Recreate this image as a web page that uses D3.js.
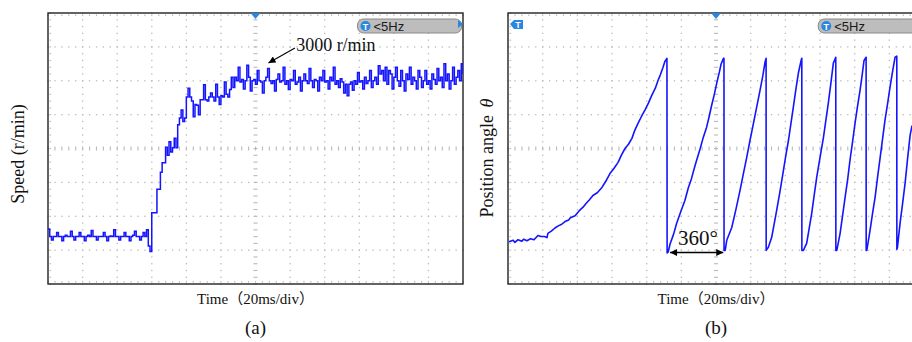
<!DOCTYPE html>
<html lang="en">
<head>
<meta charset="UTF-8">
<title>Speed and position angle</title>
<style>
  body { margin: 0; background: #fff; }
  svg { display: block; }
</style>
</head>
<body>
<div id="chart"></div>
<script src="https://cdn.jsdelivr.net/npm/d3@7/dist/d3.min.js"></script>
<script>
  // (a) speed trace, one sample per ms (r/min)
  const speedStepMs = 1;
  const speedRpm = [
    // 0..59 ms, standstill offset
    810, 700, 650, 700, 700, 760, 700, 700, 640, 700, 720, 700, 700, 780, 700, 650, 700, 700, 760, 700,
    700, 640, 700, 720, 700, 790, 700, 700, 650, 700, 700, 700, 760, 700, 640, 700, 710, 700, 800, 700,
    700, 650, 700, 700, 760, 700, 700, 640, 700, 720, 780, 700, 700, 650, 700, 760, 700, 800, 560, 480,
    // 60..107 ms, acceleration
    1050, 1050, 1050, 1400, 1400, 1650, 1790, 1790, 2020, 1900, 2100, 1950, 2010, 2150, 2010, 2350,
    2450, 2570, 2400, 2450, 2760, 2890, 2760, 2700, 2470, 2650, 2640, 2500, 2720, 2720, 2940, 2720,
    2700, 2760, 2820, 2760, 2700, 2950, 2760, 2650, 2780, 2760, 2980, 2800, 2760, 2870, 3050, 2900,
    // 108..240 ms, steady 3000 r/min
    3050, 3000, 3200, 2980, 3020, 2880, 3000, 3230, 3050, 2850,
    3000, 3020, 2950, 3150, 3000, 2980, 2820, 3000, 3050, 3180,
    3000, 2960, 3000, 2850, 3020, 3100, 2980, 3000, 3200, 2950,
    3000, 2870, 3020, 3000, 3150, 2950, 2980, 3050, 2850, 3000,
    3100, 3000, 2960, 3180, 3000, 2900, 3020, 3000, 2850, 3050,
    3000, 3150, 2980, 3000, 2880, 3050, 3000, 3200, 2950, 3000,
    2900, 3030, 2980, 2820, 2950, 2780, 2950, 2980, 2860, 3000,
    2950, 3120, 2980, 3000, 2880, 3050, 2960, 3000, 3150, 2900,
    3000, 3050, 2950, 3220, 3100, 3150, 3000, 3200, 2950, 3150,
    3100, 2880, 3050, 3200, 3000, 2920, 3150, 3000, 2850, 3100,
    3020, 3200, 2950, 3050, 3000, 2880, 3150, 3050, 2900, 3000,
    3150, 2950, 3000, 2880, 3100, 3020, 2950, 3180, 3000, 3050,
    2900, 3250, 3000, 3100, 2880, 3000, 3200, 2950, 3050, 3150,
    3000, 3250, 3100
  ];

  // (b) position angle trace: time (ms) and angle (deg)
  const angleTimeMs = [
    0.6, 3, 4, 5.8, 8, 9, 11, 13, 15, 17.3, 19, 21, 22.5, 23, 25, 27.1, 29, 31, 32.9, 35,
    36, 38.7, 41, 43.3, 45, 47, 49, 51.5, 54.2, 56.5, 58.8, 61, 63.5, 65.5, 67.5, 69.5, 71.5, 73, 75, 77,
    79, 81, 83, 85, 86.6, 88, 89.4, 90.5, 91.7,
    91.8, 92.4, 93.5, 95.5, 97.3, 99.6, 102.1, 104, 105.8, 108, 110.8, 112.5, 114.6, 116, 117.5, 119, 120.4, 122, 122.9, 124.3, 124.6,
    124.65, 125.3, 126.2, 129.1, 131.5, 133.9, 135.8, 137.7, 139.6, 141.6, 143.5, 145.4, 147, 148.3, 148.9,
    148.95, 150.2, 152.1, 155, 157, 158.9, 160.3, 161.8, 163.2, 164.6, 166, 167.5, 169.1, 169.5,
    169.55, 170.4, 172.3, 175.2, 176.6, 178.1, 180, 182, 183.4, 184.8, 186.3, 187.7, 189.1,
    189.15, 189.7, 191.6, 194.5, 196, 197.3, 198.8, 200.2, 201.6, 203.1, 204.3, 205.4, 206.6,
    206.65, 207, 208.9, 210.3, 211.8, 213.2, 214.7, 216.1, 217.5, 219, 220.4, 222, 223.3, 224.3,
    224.35, 224.7, 226.2, 227.7, 229.1, 230.5, 232, 233.1
  ];
  const angleDeg = [
    14, 17, 13, 18, 15, 19, 16, 20, 18, 26, 24, 24, 22, 30, 34, 40, 44, 47, 52, 55,
    59, 63, 72, 79, 86, 93, 101, 106, 116, 128, 142, 151, 163, 177, 189, 197, 208, 222, 236, 249,
    261, 274, 289, 302, 317, 328, 341, 352, 358,
    -7, -5, 10, 28, 49, 70, 92, 115, 132, 158, 188, 208, 229, 248, 270, 290, 311, 333, 347, 358, 358,
    -2, -2, 17, 41, 75, 111, 142, 172, 204, 236, 267, 298, 325, 351, 358,
    -2, 4, 22, 73, 110, 148, 176, 204, 235, 266, 298, 330, 354, 358,
    -2, -2, 11, 67, 100, 135, 172, 210, 242, 274, 312, 349, 360,
    -2, -2, 30, 98, 132, 167, 202, 236, 267, 298, 326, 354, 360,
    -2, -2, 36, 67, 98, 135, 172, 207, 242, 273, 304, 336, 360, 362,
    0, 4, 49, 87, 124, 169, 214, 232
  ];

  const timeSpanMs = 240;     // 12 div x 20 ms
  const speedMax = 4000;      // 8 div x 500 r/min
  const angleRange = [-65, 443];

  const W = 912, H = 342;
  const blue = "#1414ff", uiBlue = "#2b86e0";
  const serif = "'Liberation Serif', 'Times New Roman', serif";
  const cjkSerif = "'Liberation Serif', 'Noto Sans CJK SC', serif";

  const svg = d3.select("#chart").append("svg")
    .attr("width", W).attr("height", H);

  function scopePanel(id, box, labelId) {
    const g = svg.append("g");
    const divX = d3.scaleLinear().domain([0, 12]).range([box.x, box.x + box.w]);
    const divY = d3.scaleLinear().domain([0, 8]).range([box.y + box.h, box.y]);

    g.append("clipPath").attr("id", id)
      .append("rect").attr("x", box.x).attr("y", box.y).attr("width", box.w).attr("height", box.h);

    const dots = g.append("g").attr("fill", "#b9b9b9");
    const minorY = d3.range(0, 8.01, 0.2), minorX = d3.range(0, 12.01, 0.2);
    // dotted grid
    for (let i = 1; i < 12; i++) {
      if (i === 6) continue;
      dots.selectAll(null).data(minorY).join("rect")
        .attr("x", divX(i) - 0.6).attr("y", d => divY(d) - 0.6)
        .attr("width", 1.3).attr("height", 1.3);
    }
    for (let j = 1; j < 8; j++) {
      if (j === 4) continue;
      dots.selectAll(null).data(minorX).join("rect")
        .attr("x", d => divX(d) - 0.6).attr("y", divY(j) - 0.6)
        .attr("width", 1.3).attr("height", 1.3);
    }
    // centre lines with minor ticks
    dots.selectAll(null).data(minorX).join("rect")
      .attr("x", d => divX(d) - 0.5).attr("y", divY(4) - 2)
      .attr("width", 1.1).attr("height", 4);
    dots.selectAll(null).data(minorY).join("rect")
      .attr("x", divX(6) - 2).attr("y", d => divY(d) - 0.5)
      .attr("width", 4).attr("height", 1.1);
    // edge ticks
    dots.selectAll(null).data(minorX).join("rect")
      .attr("x", d => divX(d) - 0.5).attr("y", box.y + 1.5).attr("width", 1.1).attr("height", 1.6);
    dots.selectAll(null).data(minorX).join("rect")
      .attr("x", d => divX(d) - 0.5).attr("y", box.y + box.h - 3).attr("width", 1.1).attr("height", 1.6);
    dots.selectAll(null).data(minorY).join("rect")
      .attr("x", box.x + 1.5).attr("y", d => divY(d) - 0.5).attr("width", 1.6).attr("height", 1.1);

    g.append("rect")
      .attr("x", box.x).attr("y", box.y).attr("width", box.w).attr("height", box.h)
      .attr("fill", "none").attr("stroke", "#222").attr("stroke-width", 1.4);

    // trigger marker at top centre
    const cx = divX(6);
    g.append("path")
      .attr("d", `M${cx - 5},${box.y} L${cx + 5},${box.y} L${cx},${box.y + 6} Z`)
      .attr("fill", uiBlue);

    // "<5Hz" badge
    const bx = divX(8.95), by = box.y + 6;
    g.append("rect").attr("x", bx).attr("y", by).attr("width", 104).attr("height", 14)
      .attr("rx", 6).attr("fill", "#bdbdbd").attr("stroke", "#8a8a8a");
    g.append("circle").attr("cx", bx + 8).attr("cy", by + 7).attr("r", 5).attr("fill", uiBlue);
    g.append("text").attr("x", bx + 8).attr("y", by + 10.5).attr("text-anchor", "middle")
      .attr("font-family", "'Liberation Sans', sans-serif").attr("font-size", 9).attr("font-weight", "bold")
      .attr("fill", "#fff").text("T");
    g.append("text").attr("x", bx + 16).attr("y", by + 11.5)
      .attr("font-family", "'Liberation Sans', 'DejaVu Sans', sans-serif").attr("font-size", 13)
      .attr("fill", "#1a1a1a").text("<5Hz");
    g.append("path")
      .attr("d", `M${box.x + box.w - 5},${by + 1} L${box.x + box.w},${by + 5} L${box.x + box.w - 5},${by + 9} Z`)
      .attr("fill", uiBlue);

    // axis title and panel label
    g.append("text").attr("x", divX(6)).attr("y", 304).attr("text-anchor", "middle")
      .attr("font-family", cjkSerif).attr("font-size", 15).attr("fill", "#111")
      .text("Time（20ms/div）");
    g.append("text").attr("x", divX(6)).attr("y", 334).attr("text-anchor", "middle")
      .attr("font-family", serif).attr("font-size", 19).attr("fill", "#111")
      .text(labelId);
    return g;
  }

  // ---------- (a) speed ----------
  const boxA = {x: 48, y: 13, w: 415, h: 271};
  const gA = scopePanel("clipA", boxA, "(a)");
  const xA = d3.scaleLinear().domain([0, timeSpanMs]).range([boxA.x, boxA.x + boxA.w]);
  const yA = d3.scaleLinear().domain([0, speedMax]).range([boxA.y + boxA.h, boxA.y]);

  const speedLine = d3.line()
    .x((d, i) => xA(i * speedStepMs))
    .y(d => yA(d))
    .curve(d3.curveStepAfter);

  gA.append("path")
    .datum(speedRpm)
    .attr("clip-path", "url(#clipA)")
    .attr("fill", "none").attr("stroke", blue).attr("stroke-width", 1.5)
    .attr("d", speedLine);

  svg.append("defs").append("marker")
    .attr("id", "head").attr("viewBox", "0 0 10 10").attr("refX", 10).attr("refY", 5)
    .attr("markerWidth", 9).attr("markerHeight", 7).attr("orient", "auto-start-reverse")
    .attr("markerUnits", "userSpaceOnUse")
    .append("path").attr("d", "M0,0 L10,5 L0,10 Z").attr("fill", "#000");

  gA.append("line")
    .attr("x1", xA(142.8)).attr("y1", yA(3483))
    .attr("x2", xA(127.5)).attr("y2", yA(3262))
    .attr("stroke", "#000").attr("stroke-width", 1.1).attr("marker-end", "url(#head)");
  gA.append("text").attr("x", xA(143.5)).attr("y", yA(3439))
    .attr("font-family", serif).attr("font-size", 18).attr("fill", "#111")
    .text("3000 r/min");

  svg.append("text")
    .attr("transform", `translate(24,154) rotate(-90)`).attr("text-anchor", "middle")
    .attr("font-family", serif).attr("font-size", 18).attr("fill", "#111")
    .text("Speed (r/min)");

  // ---------- (b) position angle ----------
  const boxB = {x: 508, y: 13, w: 416, h: 271};
  const gB = scopePanel("clipB", boxB, "(b)");
  const xB = d3.scaleLinear().domain([0, timeSpanMs]).range([boxB.x, boxB.x + boxB.w]);
  const yB = d3.scaleLinear().domain(angleRange).range([boxB.y + boxB.h, boxB.y]);

  // channel tag at top-left
  gB.append("path")
    .attr("d", `M${boxB.x + 2},${boxB.y + 11} L${boxB.x + 6},${boxB.y + 7} L${boxB.x + 15},${boxB.y + 7} L${boxB.x + 15},${boxB.y + 16} L${boxB.x + 6},${boxB.y + 16} Z`)
    .attr("fill", uiBlue);
  gB.append("text").attr("x", boxB.x + 10).attr("y", boxB.y + 15).attr("text-anchor", "middle")
    .attr("font-family", "'Liberation Sans', sans-serif").attr("font-size", 9).attr("font-weight", "bold")
    .attr("fill", "#fff").text("T");

  const angleLine = d3.line()
    .x((d, i) => xB(angleTimeMs[i]))
    .y(d => yB(d));

  gB.append("path")
    .datum(angleDeg)
    .attr("clip-path", "url(#clipB)")
    .attr("fill", "none").attr("stroke", blue).attr("stroke-width", 1.6)
    .attr("stroke-linejoin", "round")
    .attr("d", angleLine);

  gB.append("line")
    .attr("x1", xB(93.5)).attr("y1", yB(-6))
    .attr("x2", xB(124.2)).attr("y2", yB(-6))
    .attr("stroke", "#000").attr("stroke-width", 1.4)
    .attr("marker-start", "url(#head)").attr("marker-end", "url(#head)");
  gB.append("text").attr("x", xB(109.6)).attr("y", yB(7.5)).attr("text-anchor", "middle")
    .attr("font-family", serif).attr("font-size", 21).attr("fill", "#111")
    .text("360°");

  const yt = svg.append("text")
    .attr("transform", `translate(493,158) rotate(-90)`).attr("text-anchor", "middle")
    .attr("font-family", serif).attr("font-size", 18).attr("fill", "#111");
  yt.append("tspan").text("Position angle ");
  yt.append("tspan").attr("font-style", "italic").attr("dx", 3).text("θ");
</script>
</body>
</html>
